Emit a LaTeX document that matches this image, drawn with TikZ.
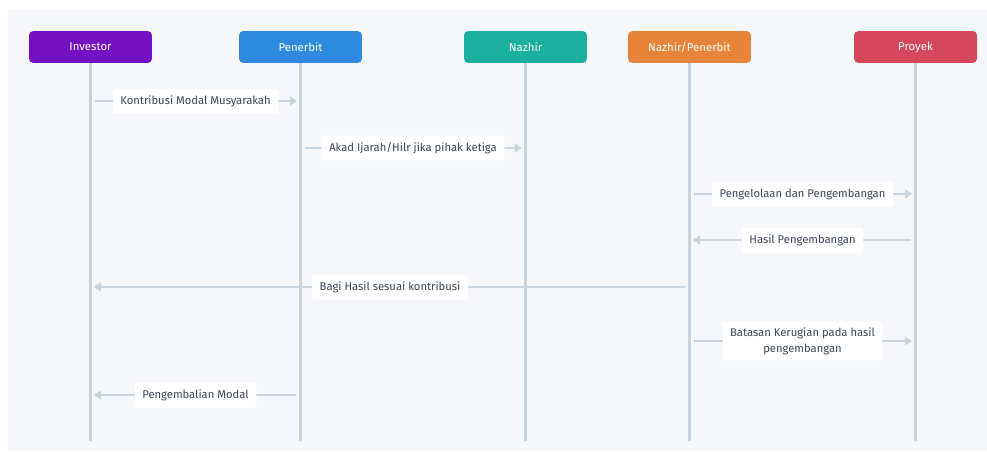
\documentclass[tikz,border=0pt]{standalone}
\usepackage{fontspec}
\setmainfont{Fira Sans}
\usepackage{tikz}
\usetikzlibrary{arrows.meta,positioning}
\usepackage{xcolor}
\definecolor{panelbg}{HTML}{F5F7FA}
\definecolor{lineclr}{HTML}{C8D3DD}
\definecolor{txtclr}{HTML}{3C4650}
\definecolor{invclr}{HTML}{7411C3}
\definecolor{penclr}{HTML}{2E8ADE}
\definecolor{nazclr}{HTML}{1AAF9E}
\definecolor{nzpclr}{HTML}{E8843A}
\definecolor{proclr}{HTML}{D5475C}
\tikzset{
actor/.style = {rectangle, rounded corners=2.5pt, text=white, minimum width=2.46cm,
minimum height=0.64cm, inner sep=0pt, font=\fontsize{6.5}{8}\selectfont},% kotak peserta
lifeline/.style = {draw=lineclr, line width=1.2pt},% garis hidup
msg/.style = {draw=lineclr, line width=1.2pt, shorten <=2.5pt, shorten >=2pt,
-{Triangle[length=4pt,width=5pt]}},% pesan
lbl/.style = {fill=white, rounded corners=1pt, text=txtclr, inner xsep=4.3pt,
minimum height=0.5cm, align=center, font=\fontsize{6.4}{9}\selectfont}% label pesan
}
\begin{document}
\begin{tikzpicture}[x=0.02cm, y=-0.02cm]
	\useasboundingbox (0,0) rectangle (987,453);
	\fill[panelbg] (8,10) rectangle (987,451);
	% peserta
	\node [actor, fill=invclr] (inv) at (90.5,47) {Investor};
	\node [actor, fill=penclr] (pen) at (300.5,47) {Penerbit};
	\node [actor, fill=nazclr] (naz) at (525.5,47) {Nazhir};
	\node [actor, fill=nzpclr] (nzp) at (689.5,47) {Nazhir/Penerbit};
	\node [actor, fill=proclr] (pro) at (915.5,47) {Proyek};
	\coordinate (bot) at (0,441);
	\foreach \p in {inv,pen,naz,nzp,pro}
	  \draw [lifeline] (\p.south) -- (\p |- bot);
	% baris pesan
	\coordinate (r1) at (0,101);
	\coordinate (r2) at (0,148);
	\coordinate (r3) at (0,194);
	\coordinate (r4) at (0,240);
	\coordinate (r5) at (0,287);
	\coordinate (r6) at (0,341);
	\coordinate (r7) at (0,395);
	\draw [msg] (inv |- r1) -- node [lbl] {Kontribusi Modal Musyarakah} (pen |- r1);
	\draw [msg] (pen |- r2) -- node [lbl] {Akad Ijarah/Hilr jika pihak ketiga} (naz |- r2);
	\draw [msg] (nzp |- r3) -- node [lbl] {Pengelolaan dan Pengembangan} (pro |- r3);
	\draw [msg] (pro |- r4) -- node [lbl] {Hasil Pengembangan} (nzp |- r4);
	\draw [msg] (nzp |- r5) -- node [lbl] {Bagi Hasil sesuai kontribusi} (inv |- r5);
	\draw [msg] (nzp |- r6) -- node [lbl] {Batasan Kerugian pada hasil\\pengembangan} (pro |- r6);
	\draw [msg] (pen |- r7) -- node [lbl] {Pengembalian Modal} (inv |- r7);
\end{tikzpicture}
\end{document}
